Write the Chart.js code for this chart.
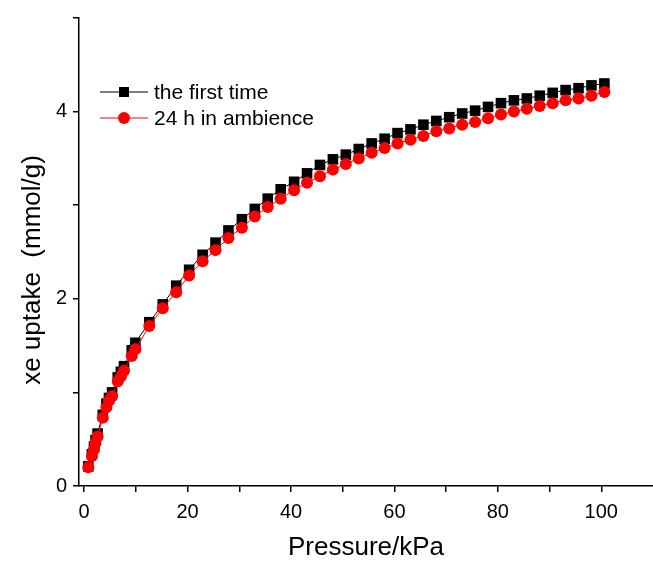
<!DOCTYPE html>
<html>
<head>
<meta charset="utf-8">
<script src="https://cdn.jsdelivr.net/npm/chart.js@4.4.1/dist/chart.umd.min.js"></script>
<style>
  html, body { margin: 0; padding: 0; background: #fff; }
  #wrap { width: 653px; height: 565px; }
</style>
</head>
<body>
<div id="wrap"><canvas id="myChart" width="653" height="565"></canvas></div>
<script>
// pressure (kPa)
var pressure = [0.8, 1.5, 1.9, 2.2, 2.6, 3.6, 4.3, 4.8, 5.4, 6.5, 7.1, 7.7, 9.2, 9.9,
  12.6, 15.2, 17.8, 20.3, 22.9, 25.4, 27.9, 30.5, 33.0, 35.5, 38.0, 40.6, 43.1,
  45.6, 48.1, 50.6, 53.1, 55.6, 58.1, 60.6, 63.1, 65.6, 68.1, 70.6, 73.1, 75.6,
  78.1, 80.6, 83.1, 85.6, 88.1, 90.6, 93.1, 95.6, 98.1, 100.6];
// xe uptake (mmol/g), the first time
var firstTime = [0.21, 0.34, 0.42, 0.49, 0.56, 0.76, 0.88, 0.94, 1.00, 1.16, 1.22, 1.28, 1.45, 1.53,
  1.75, 1.94, 2.14, 2.31, 2.47, 2.60, 2.73, 2.85, 2.96, 3.07, 3.17, 3.25, 3.34,
  3.43, 3.49, 3.54, 3.60, 3.66, 3.71, 3.77, 3.81, 3.86, 3.90, 3.94, 3.98, 4.01,
  4.05, 4.09, 4.12, 4.14, 4.17, 4.20, 4.23, 4.25, 4.28, 4.30];
// xe uptake (mmol/g), 24 h in ambience
var ambience = [0.20, 0.32, 0.39, 0.46, 0.53, 0.73, 0.84, 0.91, 0.96, 1.12, 1.17, 1.23, 1.39, 1.46,
  1.71, 1.90, 2.07, 2.25, 2.40, 2.52, 2.65, 2.76, 2.88, 2.98, 3.07, 3.16, 3.24,
  3.31, 3.38, 3.44, 3.50, 3.56, 3.61, 3.66, 3.70, 3.74, 3.79, 3.82, 3.86, 3.89,
  3.93, 3.97, 4.00, 4.03, 4.06, 4.09, 4.12, 4.14, 4.17, 4.21];
var xTicks = [0, 10, 20, 30, 40, 50, 60, 70, 80, 90, 100];
var xLabels = [0, 20, 40, 60, 80, 100];
var yTicks = [0, 1, 2, 3, 4, 5];
var yLabels = [0, 2, 4];
var yTitle = 'xe uptake  (mmol/g)';

function pts(xs, ys) {
  var out = [];
  for (var i = 0; i < xs.length; i++) out.push({x: xs[i], y: ys[i]});
  return out;
}

var FONT = "'Liberation Sans', Arial, sans-serif";

// legend inside the plot (top-left) and the y title
var extras = {
  id: 'extras',
  afterDraw: function(chart) {
    var ctx = chart.ctx;
    var items = [
      {ds: chart.data.datasets[0], y: 92},
      {ds: chart.data.datasets[1], y: 118}
    ];
    ctx.save();
    items.forEach(function(it){
      var ds = it.ds;
      ctx.strokeStyle = ds.borderColor;
      ctx.lineWidth = 1;
      ctx.beginPath();
      ctx.moveTo(100, it.y);
      ctx.lineTo(148, it.y);
      ctx.stroke();
      ctx.fillStyle = ds.pointBackgroundColor;
      ctx.beginPath();
      if (ds.pointStyle === 'rect') {
        ctx.rect(124 - 5, it.y - 5, 10, 10);
      } else {
        ctx.arc(124, it.y, 6, 0, Math.PI * 2);
      }
      ctx.fill();
      ctx.fillStyle = '#000';
      ctx.font = '21px ' + FONT;
      ctx.textBaseline = 'middle';
      ctx.textAlign = 'left';
      ctx.fillText(ds.label, 154, it.y + 1);
    });
    // y axis title
    ctx.translate(33, 270);
    ctx.rotate(-Math.PI / 2);
    ctx.font = '26px ' + FONT;
    ctx.textAlign = 'center';
    ctx.textBaseline = 'middle';
    ctx.fillText(yTitle, 0, 0);
    ctx.restore();
  }
};

var myChart = document.getElementById('myChart').getContext('2d');
var chart = new Chart(myChart, {
  type: 'line',
  data: {
    datasets: [{
      label: 'the first time',
      data: pts(pressure, firstTime),
      borderColor: '#000000',
      backgroundColor: '#000000',
      pointBackgroundColor: '#000000',
      pointBorderColor: '#000000',
      pointStyle: 'rect',
      pointRadius: 7.5,
      pointBorderWidth: 0,
      borderWidth: 1,
      order: 1
    }, {
      label: '24 h in ambience',
      data: pts(pressure, ambience),
      borderColor: '#ff0000',
      backgroundColor: '#ff0000',
      pointBackgroundColor: '#ff0000',
      pointBorderColor: '#ff0000',
      pointStyle: 'circle',
      pointRadius: 6,
      pointBorderWidth: 0,
      borderWidth: 1,
      order: 0
    }]
  },
  options: {
    responsive: false,
    animation: false,
    layout: { autoPadding: false, padding: { top: 16, right: 0, left: 0, bottom: 0 } },
    plugins: { legend: { display: false }, tooltip: { enabled: false } },
    scales: {
      x: {
        type: 'linear',
        min: -1,
        max: 110,
        afterBuildTicks: function(s){ s.ticks = xTicks.map(function(v){ return {value: v}; }); },
        afterFit: function(s){ s.height = 79; s.paddingLeft = 0; s.paddingRight = 0; },
        border: { display: true, color: '#000', width: 1.5 },
        grid: { display: true, drawOnChartArea: false, drawTicks: true, tickLength: 6, color: '#000', lineWidth: 1.5 },
        ticks: {
          color: '#000', padding: 8, maxRotation: 0, autoSkip: false,
          font: { family: FONT, size: 20 },
          callback: function(v){ return xLabels.indexOf(v) >= 0 ? String(v) : ''; }
        },
        title: {
          display: true, text: 'Pressure/kPa', color: '#000',
          font: { family: FONT, size: 26 }, padding: { top: 0, bottom: 2 }
        }
      },
      y: {
        type: 'linear',
        min: 0,
        max: 5,
        afterBuildTicks: function(s){ s.ticks = yTicks.map(function(v){ return {value: v}; }); },
        afterFit: function(s){ s.width = 79; },
        border: { display: true, color: '#000', width: 1.5 },
        grid: { display: true, drawOnChartArea: false, drawTicks: true, tickLength: 6, color: '#000', lineWidth: 1.5 },
        ticks: {
          color: '#000', padding: 6,
          font: { family: FONT, size: 20 },
          callback: function(v){ return yLabels.indexOf(v) >= 0 ? String(v) : ''; }
        },
        title: { display: false }
      }
    }
  },
  plugins: [extras]
});
</script>
</body>
</html>
